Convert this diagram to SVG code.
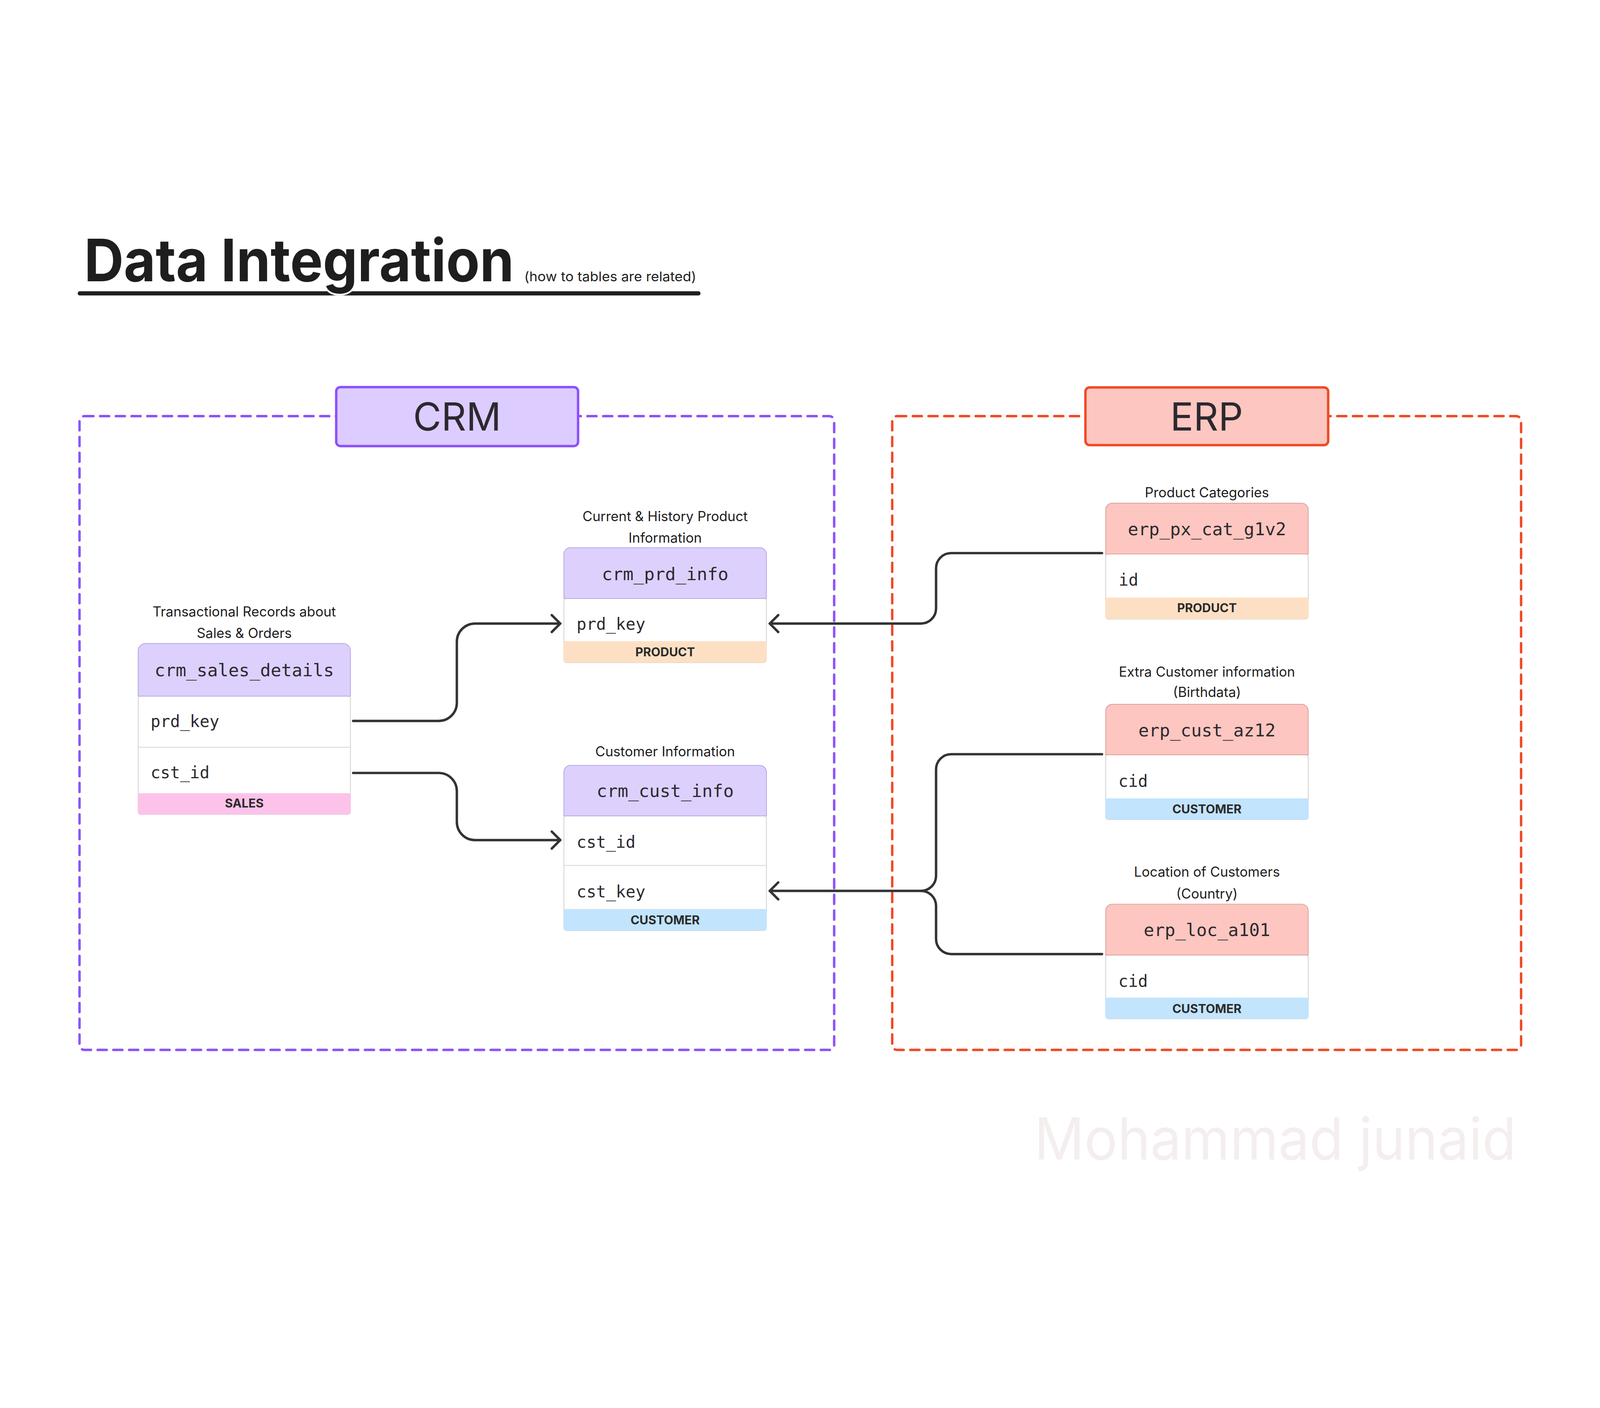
<svg xmlns="http://www.w3.org/2000/svg" width="5292" height="3604" viewBox="0 0 5292 3604">
<defs>
<style>
svg{width:100vw;height:100vh}
.cap{font-family:Inter,"Noto Sans","Liberation Sans",sans-serif;font-size:45px;fill:#1e1e1e;text-anchor:middle}
.hdr{font-family:"DejaVu Sans Mono","Liberation Mono",monospace;font-size:58px;fill:#2c2a30;text-anchor:middle}
.row{font-family:"DejaVu Sans Mono","Liberation Mono",monospace;font-size:54px;fill:#2c2a30}
.band{font-family:Inter,"Noto Sans","Liberation Sans",sans-serif;font-size:40px;font-weight:700;fill:#2b2b2b;text-anchor:middle}
.body{fill:#ffffff;stroke:#cfcfcf;stroke-width:2.5}
.div{stroke:#d6d6d6;stroke-width:2.5}
.hcrm{fill:#ddd0fd;stroke:#b3a5e1;stroke-width:2.5}
.herp{fill:#fdc6c0;stroke:#d9a19b;stroke-width:2.5}
.sales{fill:#fdc2ea}
.prod{fill:#fde0c4}
.cust{fill:#c2e4fd}
.conn{fill:none;stroke:#333333;stroke-width:8;stroke-linecap:round;stroke-linejoin:round}
.group{font-family:Inter,"Noto Sans","Liberation Sans",sans-serif;font-size:128px;fill:#2b2930;text-anchor:middle}
</style>
<marker id="arr" markerUnits="userSpaceOnUse" viewBox="-40 -40 50 80" markerWidth="50" markerHeight="80" refX="0" refY="0" orient="auto">
<path d="M-28,-28 L0,0 L-28,28" fill="none" stroke="#333333" stroke-width="8" stroke-linecap="round" stroke-linejoin="round"/>
</marker>
</defs>
<rect width="5292" height="3604" fill="#ffffff"/>

<g id="title">
<line x1="264" y1="444" x2="2310" y2="444" stroke="#1e1e1e" stroke-width="14" stroke-linecap="round"/>
<text x="278" y="404" font-family="Inter,'Noto Sans','Liberation Sans',sans-serif" font-size="193" font-weight="700" fill="#1e1e1e" stroke="#ffffff" stroke-width="12" paint-order="stroke" textLength="1422" lengthAdjust="spacingAndGlyphs">Data Integration</text>
<text x="1734" y="404" font-family="Inter,'Noto Sans','Liberation Sans',sans-serif" font-size="44" fill="#1e1e1e" textLength="569" lengthAdjust="spacingAndGlyphs">(how to tables are related)</text>
</g>

<g id="crm-group">
<rect x="263" y="850" width="2496" height="2096" rx="16" fill="none" stroke="#8b52fc" stroke-width="8" stroke-dasharray="30 22" stroke-linecap="round"/>
<rect x="1112" y="754" width="800" height="195" rx="14" fill="#ddccff" stroke="#8b52fc" stroke-width="8"/>
<text class="group" x="1512" y="898">CRM</text>
</g>

<g id="erp-group">
<rect x="2951" y="850" width="2080" height="2096" rx="16" fill="none" stroke="#f04a26" stroke-width="8" stroke-dasharray="30 22" stroke-linecap="round"/>
<rect x="3590" y="755" width="803" height="191" rx="14" fill="#fdc6c0" stroke="#f04a26" stroke-width="8"/>
<text class="group" x="3991" y="898">ERP</text>
</g>

<g id="connectors">
<path class="conn" marker-end="url(#arr)" d="M1168,1858 H1451 A60,60 0 0 0 1511,1798 V1596 A60,60 0 0 1 1571,1536 H1853"/>
<path class="conn" marker-end="url(#arr)" d="M1168,2030 H1451 A60,60 0 0 1 1511,2090 V2192 A60,60 0 0 0 1571,2252 H1853"/>
<path class="conn" marker-end="url(#arr)" d="M3645,1303 H3146 A50,50 0 0 0 3096,1353 V1486 A50,50 0 0 1 3046,1536 H2546"/>
<path class="conn" marker-end="url(#arr)" d="M3645,1968 H3146 A50,50 0 0 0 3096,2018 V2370 A50,50 0 0 1 3046,2420 H2546"/>
<path class="conn" d="M3645,2629 H3146 A50,50 0 0 1 3096,2579 V2470 A50,50 0 0 0 3046,2420"/>
</g>

<g id="crm_sales_details">
<text class="cap" x="808" y="1512">Transactional Records about</text>
<text class="cap" x="808" y="1584">Sales &amp; Orders</text>
<rect class="body" x="457" y="1776" width="702" height="391" rx="8"/>
<path class="hcrm" d="M457,1776 V1626 A24,24 0 0 1 481,1602 H1135 A24,24 0 0 1 1159,1626 V1776 Z"/>
<line class="div" x1="457" y1="1945" x2="1159" y2="1945"/>
<rect class="sales" x="456" y="2097" width="704" height="70" rx="7"/>
<text class="hdr" x="808" y="1710">crm_sales_details</text>
<text class="row" x="498" y="1878">prd_key</text>
<text class="row" x="498" y="2047">cst_id</text>
<text class="band" x="808" y="2145">SALES</text>
</g>

<g id="crm_prd_info">
<text class="cap" x="2200" y="1197">Current &amp; History Product</text>
<text class="cap" x="2200" y="1269">Information</text>
<rect class="body" x="1865" y="1453" width="670" height="212" rx="8"/>
<path class="hcrm" d="M1865,1453 V1307 A22,22 0 0 1 1887,1285 H2513 A22,22 0 0 1 2535,1307 V1453 Z"/>
<rect class="prod" x="1864" y="1594" width="672" height="71" rx="7"/>
<text class="hdr" x="2200" y="1393">crm_prd_info</text>
<text class="row" x="1907" y="1556">prd_key</text>
<text class="band" x="2200" y="1644">PRODUCT</text>
</g>

<g id="crm_cust_info">
<text class="cap" x="2200" y="1975">Customer Information</text>
<rect class="body" x="1865" y="2172" width="670" height="379" rx="8"/>
<path class="hcrm" d="M1865,2172 V2027 A22,22 0 0 1 1887,2005 H2513 A22,22 0 0 1 2535,2027 V2172 Z"/>
<line class="div" x1="1865" y1="2336" x2="2535" y2="2336"/>
<rect class="cust" x="1864" y="2480" width="672" height="71" rx="7"/>
<text class="hdr" x="2200" y="2110">crm_cust_info</text>
<text class="row" x="1907" y="2277">cst_id</text>
<text class="row" x="1907" y="2442">cst_key</text>
<text class="band" x="2200" y="2531">CUSTOMER</text>
</g>

<g id="erp_px_cat_g1v2">
<text class="cap" x="3992" y="1118">Product Categories</text>
<rect class="body" x="3657" y="1306" width="670" height="215" rx="8"/>
<path class="herp" d="M3657,1306 V1160 A22,22 0 0 1 3679,1138 H4305 A22,22 0 0 1 4327,1160 V1306 Z"/>
<rect class="prod" x="3656" y="1450" width="672" height="71" rx="7"/>
<text class="hdr" x="3992" y="1244">erp_px_cat_g1v2</text>
<text class="row" x="3700" y="1410">id</text>
<text class="band" x="3992" y="1499">PRODUCT</text>
</g>

<g id="erp_cust_az12">
<text class="cap" x="3992" y="1711">Extra Customer information</text>
<text class="cap" x="3992" y="1779">(Birthdata)</text>
<rect class="body" x="3657" y="1970" width="670" height="214" rx="8"/>
<path class="herp" d="M3657,1970 V1825 A22,22 0 0 1 3679,1803 H4305 A22,22 0 0 1 4327,1825 V1970 Z"/>
<rect class="cust" x="3656" y="2114" width="672" height="70" rx="7"/>
<text class="hdr" x="3992" y="1909">erp_cust_az12</text>
<text class="row" x="3699" y="2076">cid</text>
<text class="band" x="3992" y="2164">CUSTOMER</text>
</g>

<g id="erp_loc_a101">
<text class="cap" x="3992" y="2373">Location of Customers</text>
<text class="cap" x="3992" y="2445">(Country)</text>
<rect class="body" x="3657" y="2632" width="670" height="211" rx="8"/>
<path class="herp" d="M3657,2632 V2486 A22,22 0 0 1 3679,2464 H4305 A22,22 0 0 1 4327,2486 V2632 Z"/>
<rect class="cust" x="3656" y="2773" width="672" height="70" rx="7"/>
<text class="hdr" x="3992" y="2570">erp_loc_a101</text>
<text class="row" x="3699" y="2737">cid</text>
<text class="band" x="3992" y="2824">CUSTOMER</text>
</g>

<g id="watermark">
<text x="3421" y="3308" font-family="Inter,'Noto Sans','Liberation Sans',sans-serif" font-size="191" fill="#f5eeee" textLength="1594" lengthAdjust="spacingAndGlyphs">Mohammad junaid</text>
</g>
</svg>
